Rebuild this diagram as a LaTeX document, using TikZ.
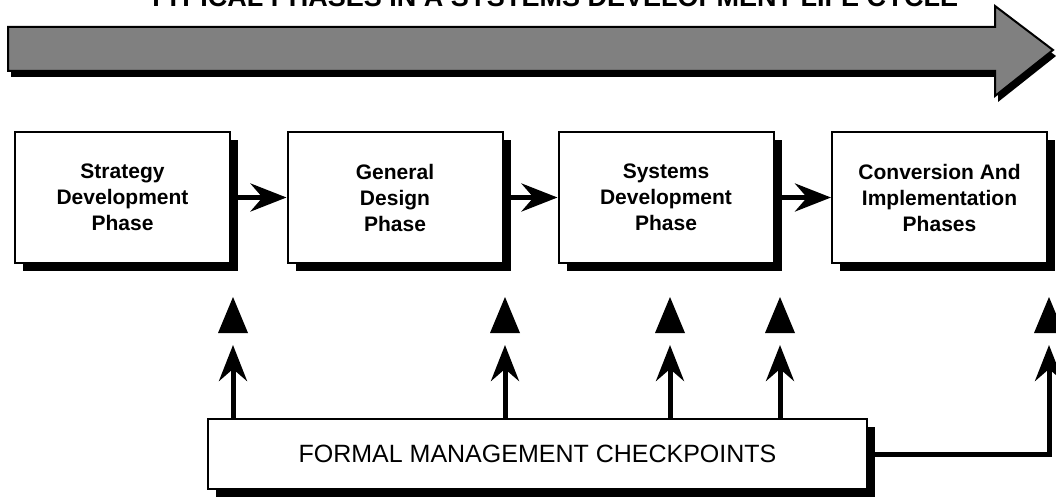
\documentclass[tikz,border=0pt]{standalone}
\usepackage{fontspec}
\setmainfont{Liberation Sans}
\usepackage{tikz}
\usetikzlibrary{arrows.meta, shadows}
\tikzset{>={Stealth[length=36pt,width=28pt,inset=12pt]}}
\tikzset{
  phasebox/.style={draw=black, line width=2pt, fill=white, minimum width=215pt, minimum height=131pt,
    align=center, font=\bfseries\fontsize{21}{26}\selectfont,
    drop shadow={shadow xshift=8pt, shadow yshift=-8pt, fill=black, opacity=1}},
  link/.style={->, line width=5pt}
}

\begin{document}
\begin{tikzpicture}[x=1pt, y=-1pt]
  \useasboundingbox (0,0) rectangle (1056,497);
  \clip (0,0) rectangle (1056,497);

  % title, top part is cut off
  \node[anchor=base, font=\bfseries\fontsize{27}{27}\selectfont, inner sep=0] (TITLE) at (553,7)
    {TYPICAL PHASES IN A SYSTEMS DEVELOPMENT LIFE CYCLE};

  % big arrow
  \fill[black!50, draw=black, line width=2pt,
        drop shadow={shadow xshift=3pt, shadow yshift=-6pt, fill=black, opacity=1}]
    (8,27) -- (995,27) -- (995,6) -- (1053,50) -- (995,96) -- (995,71) -- (8,71) -- cycle;

  \node[phasebox] (A) at (122.5,197.5) {Strategy\\Development\\Phase};
  \node[phasebox] (B) at (395,197.5) {General\\Design\\Phase};
  \node[phasebox] (C) at (666,197.5) {Systems\\Development\\Phase};
  \node[phasebox] (D) at (939.5,197.5) {Conversion And\\Implementation\\Phases};

  \draw[link] (A) -- (B);
  \draw[link] (B) -- (C);
  \draw[link] (C) -- (D);

  \node[phasebox, minimum width=659pt, minimum height=70pt, font=\fontsize{25}{25}\selectfont]
    (CHK) at (537.5,454) {FORMAL MANAGEMENT CHECKPOINTS};

  % checkpoint markers
  \coordinate (M1) at (233,333);
  \coordinate (M2) at (505,333);
  \coordinate (M3) at (670,333);
  \coordinate (M4) at (780,333);
  \coordinate (M5) at (1049,333);
  \foreach \m in {M1,M2,M3,M4,M5}
    \fill (\m) ++(-15,0) -- ++(15,-36) -- ++(15,36) -- cycle;

  \draw[link, shorten >=12pt] (CHK.north -| M1) -- (M1);
  \draw[link, shorten >=12pt] (CHK.north -| M2) -- (M2);
  \draw[link, shorten >=12pt] (CHK.north -| M3) -- (M3);
  \draw[link, shorten >=12pt] (CHK.north -| M4) -- (M4);
  \draw[link, shorten >=12pt] (CHK.east) -| (M5);
\end{tikzpicture}
\end{document}
